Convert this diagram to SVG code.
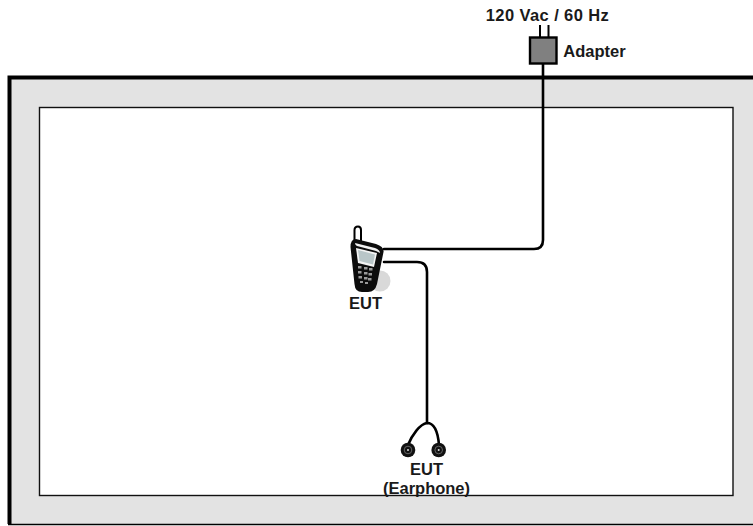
<svg xmlns="http://www.w3.org/2000/svg" width="753" height="526" viewBox="0 0 753 526">
<style>
text{font-family:"Liberation Sans",Arial,sans-serif;font-size:16.500px;font-weight:bold;fill:#1a1a1a;text-anchor:middle}
.w{fill:none;stroke:#000;stroke-width:2.600;stroke-linecap:round}
</style>
<defs>
<g id="plug"><circle r="7.300" fill="#111"/><circle r="3.800" fill="none" stroke="#777" stroke-width="0.800"/><circle r="1" fill="#ddd"/></g>
</defs>
<g id="room">
<rect x="0" y="0" width="753" height="526" fill="#fff"/>
<path d="M9.500 524.500V77.500H753V524.500Z" fill="#e3e3e3"/>
<path d="M9.500 524V77.500H753" fill="none" stroke="#000" stroke-width="4"/>
<path d="M8 524.500H753" fill="none" stroke="#000" stroke-width="1.500"/>
<rect x="39.500" y="107.500" width="693.500" height="388" fill="#fff" stroke="#111" stroke-width="1.400"/>
</g>
<g id="connectors">
<path class="w" d="M384 249H534Q543 249 543 240V62"/>
<path class="w" d="M384 262H417Q427 262 427 272V423"/>
<path class="w" d="M408 445C412 435 420 424 427 423C435 423 438 433 439 445"/>
</g>
<g id="adapter">
<path d="M540 25V38M548.500 25V38" stroke="#000" stroke-width="2" fill="none"/>
<rect x="530" y="37.500" width="26.500" height="26" fill="#808080" stroke="#000" stroke-width="2.400"/>
<text x="594.500" y="57">Adapter</text>
<text x="547.500" y="21" letter-spacing="0.400">120 Vac / 60 Hz</text>
</g>
<g id="eut-phone">
<circle cx="380" cy="281" r="10.500" fill="#d9d9d9"/>
<path d="M354.500 241V230Q354.500 226.500 358 226.500Q361 226.500 361 230V243Z" fill="#fff" stroke="#000" stroke-width="2"/>
<path d="M350.500 247Q350.500 239 356 239L376 244Q384.500 247 383.500 252L377 284Q375 292 368 292H362Q355 292 354.500 284Z" fill="#0c0c0c"/>
<path d="M355 243L375 248Q380 250 380 253L376 251L357 246Q355 245 355 243Z" fill="#f2f2f2"/>
<path d="M356 248L377 253L374 267L358 263Z" fill="#f4f4f4"/>
<path d="M358 250L375 254.500L373 264.500L359.500 261Z" fill="#b9c6c8"/>
<g fill="#999"><rect x="358" y="266" width="3.500" height="2.500"/><rect x="364" y="267" width="3.500" height="2.500"/><rect x="369" y="268" width="3.500" height="2.500"/><rect x="358" y="271" width="3.500" height="2.500"/><rect x="364" y="272" width="3.500" height="2.500"/><rect x="368.500" y="273" width="3.500" height="2.500"/><rect x="358.500" y="276" width="3.500" height="2.500"/><rect x="364" y="277" width="3.500" height="2.500"/><rect x="368" y="278" width="3.500" height="2.500"/><rect x="360" y="281" width="3" height="2"/><rect x="365" y="282" width="3" height="2"/></g>
<text x="365.500" y="309">EUT</text>
</g>
<g id="eut-earphone">
<use href="#plug" x="408" y="450"/>
<use href="#plug" x="438.700" y="450"/>
<text x="426.500" y="474.500">EUT</text>
<text x="426.500" y="493.500">(Earphone)</text>
</g>
</svg>
